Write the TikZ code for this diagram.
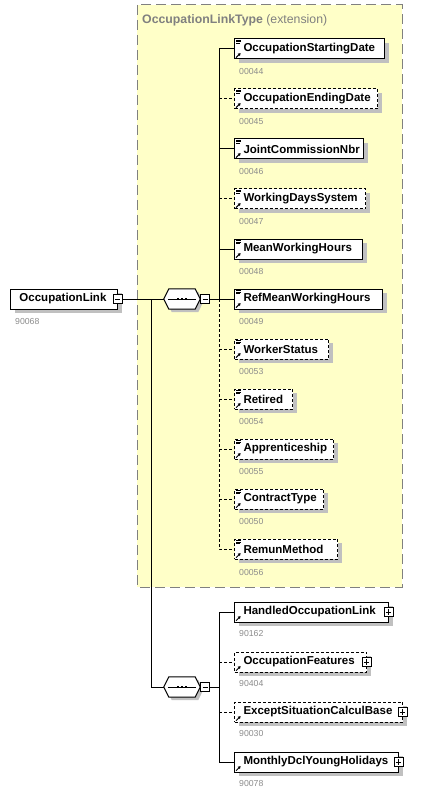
\documentclass[tikz,border=0pt]{standalone}
\usepackage{fontspec}
\setmainfont{Liberation Sans}
\usetikzlibrary{calc,shadows,arrows.meta}
\definecolor{ybg}{HTML}{FFFFC8}
\definecolor{shd}{HTML}{C0C0C0}
\definecolor{ttl}{HTML}{808080}
\definecolor{lblc}{HTML}{8C8C8C}
\tikzset{
  elem/.style={draw, fill=white, line width=1pt, minimum height=20pt, inner sep=0pt,
    font=\fontsize{11.5}{13}\selectfont\bfseries,
    drop shadow={shadow xshift=4pt, shadow yshift=-4pt, fill=shd, opacity=1}},
  opt/.style={dash pattern=on 3pt off 2pt},
  mand/.style={},
  lbl/.style={inner sep=0pt, text=lblc, font=\fontsize{8.7}{10}\selectfont},
  tog/.style={draw, fill=white, line width=0.8pt, minimum size=9pt, inner sep=0pt},
  seqbox/.style={inner sep=0pt, minimum width=36pt, minimum height=20pt},
  conn/.style={line width=1pt},
  dconn/.style={line width=1pt, dash pattern=on 3pt off 2pt},
}
\newcommand\xelem[7]{%
  \node[elem,#6,minimum width=#3pt,anchor=west] (#1) at (234,#2) {\makebox[#3pt][l]{\hspace*{9pt}#4}};
  \node[lbl,anchor=west] (#1-l) at (239,#2+#7) {#5};
}
\newcommand\docicon[1]{%
  \draw[line width=0.8pt] ($(#1.north west)+(2,1.8)$) -- ++(5,0);
  \draw[line width=0.8pt] ($(#1.north west)+(2,3.4)$) -- ++(5,0);
  \draw[line width=0.8pt] ($(#1.north west)+(2,5.0)$) -- ++(4,0);
}
\newcommand\refarrow[1]{%
  \draw[line width=1pt,-{Triangle[length=2.6pt,width=3pt]}] ($(#1.south west)+(2,-1.8)$) -- ($(#1.south west)+(6.6,-6.4)$);
}
\newcommand\minussign[1]{\draw[line width=0.8pt] ($(#1.center)+(-2.6,0)$) -- ($(#1.center)+(2.6,0)$);}
\newcommand\plussign[1]{\minussign{#1}\draw[line width=0.8pt] ($(#1.center)+(0,-2.6)$) -- ($(#1.center)+(0,2.6)$);}
\newcommand\octpath[2]{% node, shift
  ($(#1.west)+(#2,#2)$) -- ($(#1.north west)+(5+#2,#2)$) -- ($(#1.north east)+(-5+#2,#2)$)
  -- ($(#1.east)+(#2,#2)$) -- ($(#1.south east)+(-5+#2,#2)$) -- ($(#1.south west)+(5+#2,#2)$) -- cycle}
\newcommand\seqshape[1]{%
  \fill[shd] \octpath{#1}{3};
  \draw[line width=1pt, fill=white] \octpath{#1}{0};
  \draw[line width=1pt] ($(#1.west)+(4,0)$) -- ($(#1.east)+(-4,0)$);
  \fill ($(#1.center)+(-5.4,-1.4)$) rectangle ++(2.8,2.8);
  \fill ($(#1.center)+(-1.4,-1.4)$) rectangle ++(2.8,2.8);
  \fill ($(#1.center)+(2.6,-1.4)$) rectangle ++(2.8,2.8);
}
\begin{document}
\begin{tikzpicture}[x=1pt,y=-1pt]
\useasboundingbox (0,0) rectangle (437,794);
\fill[white] (0,0) rectangle (437,794);
% extension box
\draw[ttl, fill=ybg, line width=1pt, dash pattern=on 10pt off 5pt] (137,5) rectangle (402,587);
\node[inner sep=0pt, anchor=west, text=ttl, font=\fontsize{12.3}{14}\selectfont] (title) at (142,20)
  {\textbf{OccupationLinkType} (extension)};
% root element
\node[elem,minimum width=107pt,anchor=west] (root) at (10,299) {\makebox[107pt][l]{\hspace*{9pt}OccupationLink}};
\node[lbl,anchor=west] (root-l) at (15,322) {90068};
\node[tog] (root-t) at (117.5,299) {};
\minussign{root-t}
% sequences
\node[seqbox] (s1) at (182,299) {};
\seqshape{s1}
\node[tog,anchor=west] (s1-t) at (s1.east) {};
\minussign{s1-t}
\node[seqbox] (s2) at (182,687) {};
\seqshape{s2}
\node[tog,anchor=west] (s2-t) at (s2.east) {};
\minussign{s2-t}
% elements of the extension
\xelem{e1}{49}{150}{OccupationStartingDate}{00044}{mand}{23}
\xelem{e2}{99}{143}{OccupationEndingDate}{00045}{opt}{23}
\xelem{e3}{149}{129}{JointCommissionNbr}{00046}{mand}{23}
\xelem{e4}{199}{131}{WorkingDaysSystem}{00047}{opt}{23}
\xelem{e5}{249}{128}{MeanWorkingHours}{00048}{mand}{23}
\xelem{e6}{299}{148}{RefMeanWorkingHours}{00049}{mand}{23}
\xelem{e7}{349}{94}{WorkerStatus}{00053}{opt}{23}
\xelem{e8}{399}{58}{Retired}{00054}{opt}{23}
\xelem{e9}{449}{99}{Apprenticeship}{00055}{opt}{23}
\xelem{e10}{499}{89}{ContractType}{00050}{opt}{23}
\xelem{e11}{549}{103}{RemunMethod}{00056}{opt}{23}
\foreach \e in {e1,e2,e3,e4,e5,e6,e7,e8,e9,e10,e11} {\docicon{\e}\refarrow{\e}}
% second sequence elements
\xelem{f1}{612}{154}{HandledOccupationLink}{90162}{mand}{21}
\xelem{f2}{662}{132}{OccupationFeatures}{90404}{opt}{21}
\xelem{f3}{712}{168}{ExceptSituationCalculBase}{90030}{opt}{21}
\xelem{f4}{762}{164}{MonthlyDclYoungHolidays}{90078}{mand}{21}
\foreach \e in {f1,f2,f3,f4} {\refarrow{\e}
  \node[tog] (\e-t) at ($(\e.east)+(-0.5,0)$) {};
  \plussign{\e-t}}
% connectors
\coordinate (j1) at (151,299);
\coordinate (b1) at (219,299);
\coordinate (b2) at (219,687);
\draw[conn] (root-t.east) -- (s1.west);
\draw[conn] (j1) |- (s2.west);
\draw[conn] (s1-t.east) -- (e6.west);
\draw[dconn] (b1) |- (e11.west);
\foreach \e in {e2,e4,e7,e8,e9,e10} {\draw[dconn] (\e.west -| b1) -- (\e.west);}
\draw[conn] (b1) |- (e1.west);
\foreach \e in {e3,e5} {\draw[conn] (\e.west -| b1) -- (\e.west);}
\draw[conn] (s2-t.east) -- (b2);
\draw[conn] (b2) |- (f1.west);
\draw[conn] (b2) |- (f4.west);
\foreach \e in {f2,f3} {\draw[dconn] (\e.west -| b2) -- (\e.west);}
\end{tikzpicture}
\end{document}
